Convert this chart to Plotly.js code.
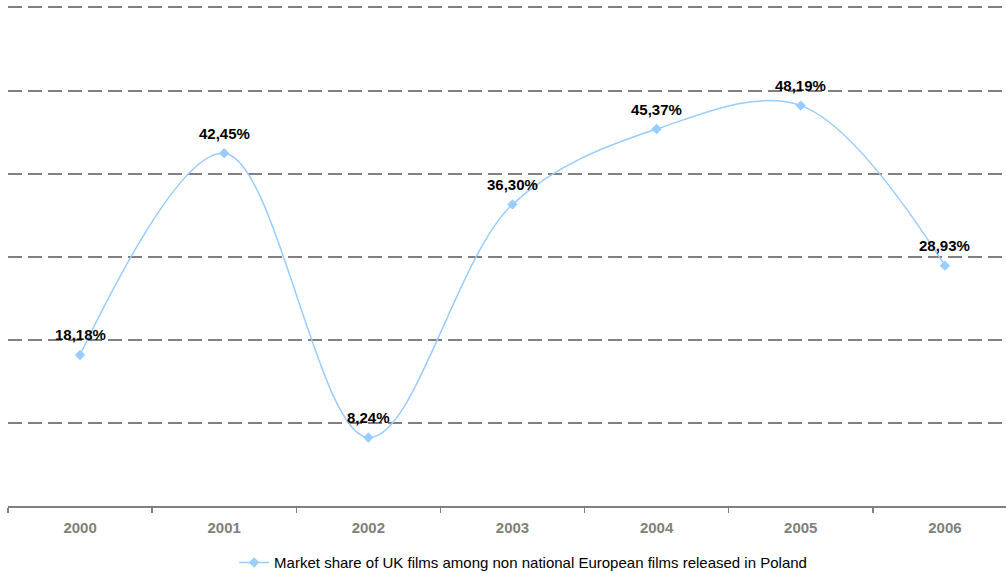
<!DOCTYPE html>
<html>
<head>
<meta charset="utf-8">
<script src="https://cdn.plot.ly/plotly-3.0.1.min.js"></script>
<style>html,body{margin:0;padding:0;background:#fff;overflow:hidden}</style>
</head>
<body>
<div id="chart" style="width:1006px;height:573px"></div>
<script>
const years = ['2000','2001','2002','2003','2004','2005','2006'];
const shares = [18.18, 42.45, 8.24, 36.30, 45.37, 48.19, 28.93];
const seriesName = 'Market share of UK films among non national European films released in Poland';

const labels = shares.map(v => '<b>' + v.toFixed(2).replace('.', ',') + '%</b>');
const FONT = 'Liberation Sans, Arial, sans-serif';

const trace = {
  x: years,
  y: shares,
  type: 'scatter',
  mode: 'lines+markers',
  name: seriesName,
  line: {shape: 'spline', smoothing: 1, color: '#99CCFF', width: 1.5},
  marker: {symbol: 'diamond', size: 8, color: '#99CCFF'},
  cliponaxis: false,
  hoverinfo: 'skip'
};

const annotations = [];
for (let i = 0; i < years.length; i++) {
  annotations.push({
    x: i, y: shares[i], xref: 'x', yref: 'y',
    text: labels[i], showarrow: false, yshift: 20,
    font: {family: FONT, size: 15, color: '#000000'}
  });
}

const layout = {
  width: 1006, height: 573,
  margin: {l: 8, r: 0, t: 5, b: 67},
  paper_bgcolor: '#fff', plot_bgcolor: '#fff',
  font: {family: FONT},
  showlegend: true,
  legend: {
    orientation: 'h', xref: 'container', yref: 'container',
    x: 0.52, xanchor: 'center', y: 0.018, yanchor: 'middle',
    font: {size: 15, color: '#000'}, itemwidth: 30
  },
  xaxis: {
    type: 'category',
    range: [-0.5, 6.424],
    showgrid: false, zeroline: false,
    showline: true, linecolor: '#808080', linewidth: 2,
    ticks: 'outside', tickson: 'boundaries', ticklen: 5, tickwidth: 1.5, tickcolor: '#808080',
    tickfont: {size: 15, color: '#808080', family: FONT, weight: 'bold'},
    ticklabelstandoff: 7,
    fixedrange: true
  },
  yaxis: {
    range: [0, 60.3], tick0: 0, dtick: 10,
    showticklabels: false, ticks: '',
    showgrid: true, gridcolor: '#808080', gridwidth: 2, griddash: '14px,6px',
    zeroline: false, showline: false, fixedrange: true
  },
  annotations: annotations
};

Plotly.newPlot('chart', [trace], layout, {displayModeBar: false, staticPlot: true});
</script>
</body>
</html>
